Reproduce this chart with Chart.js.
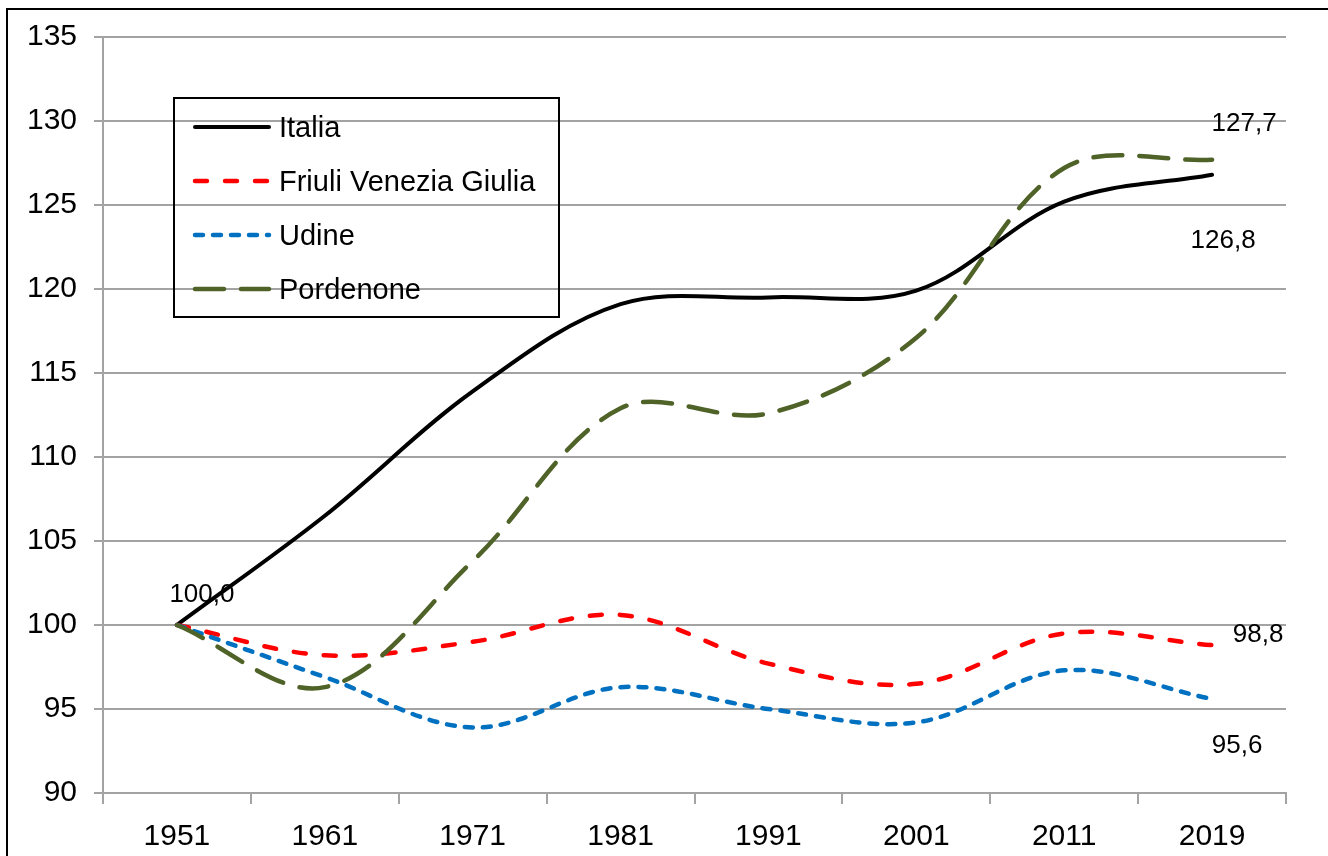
<!DOCTYPE html>
<html>
<head>
<meta charset="utf-8">
<script src="https://cdn.jsdelivr.net/npm/chart.js@4.4.1/dist/chart.umd.min.js"></script>
<style>
  body { margin: 0; background: #fff; }
</style>
</head>
<body>
<canvas id="myChart" width="1328" height="856"></canvas>
<script>
// anni del censimento (indice 1951 = 100)
var years = ['1951', '1961', '1971', '1981', '1991', '2001', '2011', '2019'];
var italia = [100.0, 106.5, 113.9, 119.1, 119.5, 119.9, 125.2, 126.8];
var fvg = [100.0, 98.2, 99.0, 100.6, 97.7, 96.5, 99.5, 98.8];
var udine = [100.0, 96.9, 93.9, 96.3, 95.0, 94.2, 97.3, 95.6];
var pordenone = [100.0, 96.3, 103.8, 112.9, 112.6, 117.1, 127.2, 127.7];
var yTicks = [90, 95, 100, 105, 110, 115, 120, 125, 130, 135];

var gridGray = '#a3a3a3';
var fontFam = '"Liberation Sans", Arial, sans-serif';

// etichette valori: dataset, indice, spostamento in px
var valueLabels = [
    {ds: 0, i: 0, dx: 25, dy: -23},
    {ds: 0, i: 7, dx: 11, dy: 73},
    {ds: 1, i: 7, dx: 46, dy: -3},
    {ds: 2, i: 7, dx: 25, dy: 54},
    {ds: 3, i: 7, dx: 32, dy: -29}
];

var framePlugin = {
    id: 'frame',
    beforeDraw: function(chart) {
        var c = chart.ctx;
        c.save();
        c.fillStyle = '#fff';
        c.fillRect(0, 0, chart.width, chart.height);
        c.restore();
    },
    afterDraw: function(chart) {
        var c = chart.ctx;
        c.save();
        c.strokeStyle = '#000';
        c.lineWidth = 2;
        c.beginPath();
        c.moveTo(7, chart.height + 2);
        c.lineTo(7, 9);
        c.lineTo(chart.width + 2, 9);
        c.stroke();
        c.restore();
    }
};

var labelPlugin = {
    id: 'valueLabels',
    afterDatasetsDraw: function(chart) {
        var c = chart.ctx;
        c.save();
        c.font = '26px ' + fontFam;
        c.fillStyle = '#000';
        c.textAlign = 'center';
        c.textBaseline = 'alphabetic';
        valueLabels.forEach(function(l) {
            var pt = chart.getDatasetMeta(l.ds).data[l.i];
            var v = chart.data.datasets[l.ds].data[l.i];
            c.fillText(v.toFixed(1).replace('.', ','), pt.x + l.dx, pt.y + l.dy);
        });
        c.restore();
    }
};

var legendPlugin = {
    id: 'boxLegend',
    afterDraw: function(chart) {
        var c = chart.ctx;
        var box = {x: 174, y: 98, w: 385, h: 219};
        c.save();
        c.strokeStyle = '#000';
        c.lineWidth = 2;
        c.strokeRect(box.x, box.y, box.w, box.h);
        c.font = '29px ' + fontFam;
        c.textBaseline = 'middle';
        c.fillStyle = '#000';
        chart.data.datasets.forEach(function(ds, k) {
            var y = 127 + k * 54;
            c.save();
            c.strokeStyle = ds.borderColor;
            c.lineWidth = ds.borderWidth;
            c.lineCap = ds.borderCapStyle;
            c.setLineDash(ds.borderDash || []);
            c.beginPath();
            c.moveTo(195, y);
            c.lineTo(269, y);
            c.stroke();
            c.restore();
            c.fillText(ds.label, 279, y + 2);
        });
        c.restore();
    }
};

var ctx = document.getElementById('myChart').getContext('2d');
var myChart = new Chart(ctx, {
    type: 'line',
    data: {
        labels: years,
        datasets: [
            {label: 'Italia', data: italia, borderColor: '#000000', borderWidth: 4,
             borderCapStyle: 'round', borderDash: [], order: 3},
            {label: 'Friuli Venezia Giulia', data: fvg, borderColor: '#ff0000', borderWidth: 4.5,
             borderCapStyle: 'round', borderDash: [12, 18], order: 2},
            {label: 'Udine', data: udine, borderColor: '#0070c0', borderWidth: 4.5,
             borderCapStyle: 'round', borderDash: [8, 10], order: 1},
            {label: 'Pordenone', data: pordenone, borderColor: '#4f6228', borderWidth: 4.5,
             borderCapStyle: 'round', borderDash: [29, 17], order: 0}
        ]
    },
    options: {
        responsive: false,
        animation: false,
        events: [],
        layout: {padding: {top: 37, right: 42, left: 0, bottom: 0}},
        elements: {
            point: {radius: 0},
            line: {tension: 0.35, fill: false}
        },
        plugins: {
            legend: {display: false},
            tooltip: {enabled: false}
        },
        scales: {
            x: {
                offset: true,
                afterFit: function(s) { s.height = 63; },
                grid: {offset: true, drawOnChartArea: false, drawTicks: true, tickLength: 11,
                       color: gridGray, lineWidth: 2},
                border: {display: true, color: gridGray, width: 2},
                ticks: {color: '#000', padding: 15, maxRotation: 0, font: {family: fontFam, size: 30}}
            },
            y: {
                min: 90,
                max: 135,
                afterFit: function(s) { s.width = 103; },
                afterBuildTicks: function(s) {
                    s.ticks = yTicks.map(function(v) { return {value: v}; });
                },
                grid: {drawTicks: true, tickLength: 9, color: gridGray, lineWidth: 2},
                border: {display: true, color: gridGray, width: 2},
                ticks: {color: '#000', padding: 17, font: {family: fontFam, size: 30}}
            }
        }
    },
    plugins: [framePlugin, labelPlugin, legendPlugin]
});
</script>
</body>
</html>
